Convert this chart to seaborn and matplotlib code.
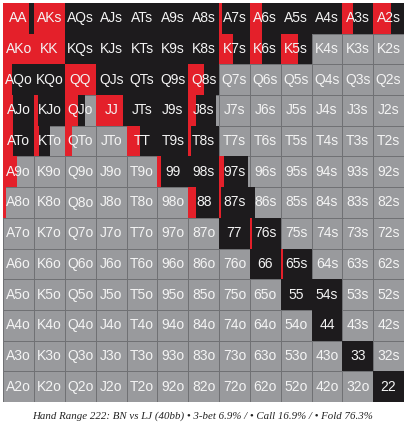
import numpy as np
import seaborn as sns
import matplotlib.pyplot as plt
from matplotlib.colors import ListedColormap

ranks = ['A', 'K', 'Q', 'J', 'T', '9', '8', '7', '6', '5', '4', '3', '2']

# share of each hand that 3-bets (red), row by row
raise_frac = [
    [.84, 1.0, 0, 0, 0, 0, 0, .08, .40, 0, 0, .33, .57],
    [1.0, 1.0, 0, 0, 0, 0, 0, .45, .39, .57, 0, 0, 0],
    [.27, 0, 1.0, 0, 0, 0, .50, 0, 0, 0, 0, 0, 0],
    [.30, .13, .41, .88, 0, 0, .25, 0, 0, 0, 0, 0, 0],
    [.33, .17, .22, 0, .45, 0, .10, 0, 0, 0, 0, 0, 0],
    [.45, 0, 0, 0, 0, .12, 0, .16, 0, 0, 0, 0, 0],
    [.08, 0, 0, 0, 0, 0, .26, .06, 0, 0, 0, 0, 0],
    [0, 0, 0, 0, 0, 0, 0, 0, .08, 0, 0, 0, 0],
    [0, 0, 0, 0, 0, 0, 0, 0, 0, .09, 0, 0, 0],
    [0, 0, 0, 0, 0, 0, 0, 0, 0, 0, 0, 0, 0],
    [0, 0, 0, 0, 0, 0, 0, 0, 0, 0, 0, 0, 0],
    [0, 0, 0, 0, 0, 0, 0, 0, 0, 0, 0, 0, 0],
    [0, 0, 0, 0, 0, 0, 0, 0, 0, 0, 0, 0, 0],
]

# share of each hand that calls (black)
call_frac = [
    [.16, 0, 1, 1, 1, 1, 1, .92, .60, 1, 1, .67, .43],
    [0, 0, 1, 1, 1, 1, 1, .55, .61, .43, 0, 0, 0],
    [.73, 1, 0, 1, 1, 1, .50, 0, 0, 0, 0, 0, 0],
    [.70, .87, .25, .12, 1, 1, .65, 0, 0, 0, 0, 0, 0],
    [.67, .36, 0, 0, .55, 1, .90, 0, 0, 0, 0, 0, 0],
    [0, 0, 0, 0, 0, .88, 1, .79, 0, 0, 0, 0, 0],
    [0, 0, 0, 0, 0, 0, .74, .94, .18, 0, 0, 0, 0],
    [0, 0, 0, 0, 0, 0, 0, 1, .92, 0, 0, 0, 0],
    [0, 0, 0, 0, 0, 0, 0, 0, 1, .91, 0, 0, 0],
    [0, 0, 0, 0, 0, 0, 0, 0, 0, 1, 1, 0, 0],
    [0, 0, 0, 0, 0, 0, 0, 0, 0, 0, 1, 0, 0],
    [0, 0, 0, 0, 0, 0, 0, 0, 0, 0, 0, 1, 0],
    [0, 0, 0, 0, 0, 0, 0, 0, 0, 0, 0, 0, 1],
]

caption = "Hand Range 222: BN vs LJ (40bb) \u2022 3-bet 6.9% / \u2022 Call 16.9% / \u2022 Fold 76.3%"

RED = '#e4202a'
BLACK = '#1d1b1d'
GRAY = '#999a9d'
LINE = '#707174'

n = len(ranks)
labels = np.empty((n, n), dtype=object)
for i in range(n):
    for j in range(n):
        if i == j:
            labels[i, j] = ranks[i] + ranks[j]
        elif j > i:
            labels[i, j] = ranks[i] + ranks[j] + 's'
        else:
            labels[i, j] = ranks[j] + ranks[i] + 'o'

r = np.array(raise_frac, dtype=float)
c = np.array(call_frac, dtype=float)

fig = plt.figure(figsize=(4.06, 4.32), dpi=100)
ax = fig.add_axes([3.3 / 406, 30 / 432, 400.7 / 406, 399 / 432])

# fold colour as the base grid, labels on top
sns.heatmap(np.zeros((n, n)), ax=ax, cmap=ListedColormap([GRAY]), cbar=False,
            annot=labels, fmt='', linewidths=0.6, linecolor=LINE,
            annot_kws={'color': '#f4f4f4', 'fontsize': 10, 'family': 'Liberation Sans'})

rows, cols = np.indices((n, n))
rows = rows.ravel() + 0.5
cols = cols.ravel().astype(float)
ax.barh(rows, r.ravel(), left=cols, height=1.0, color=RED, linewidth=0)
ax.barh(rows, c.ravel(), left=cols + r.ravel(), height=1.0, color=BLACK, linewidth=0)

for t in ax.texts:
    t.set_zorder(5)

ax.set_xlim(0, n)
ax.set_ylim(n, 0)
ax.set_xticks([])
ax.set_yticks([])
ax.set_xlabel('')
ax.set_ylabel('')

fig.text(0.5, 1 - 416 / 432, caption, ha='center', va='center', fontsize=7.8,
         style='italic', family='Liberation Serif', color='#222222')

fig.savefig('out.png', dpi=100, facecolor='white')
